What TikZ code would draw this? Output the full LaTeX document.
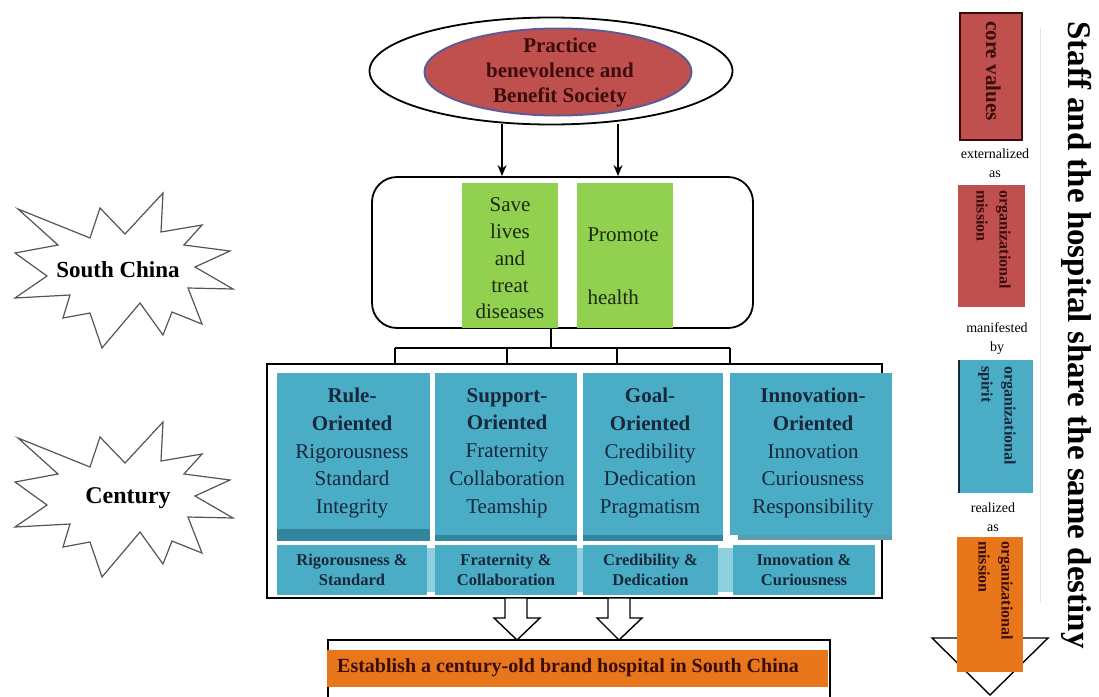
\documentclass[tikz,border=0pt]{standalone}
\usepackage{fontspec}
\setmainfont{Liberation Serif}
\usetikzlibrary{arrows.meta,shapes.geometric}
\definecolor{myred}{HTML}{C0504D}
\definecolor{redborder}{HTML}{5E5A96}
\definecolor{mygreen}{HTML}{92D050}
\definecolor{myblue}{HTML}{4BACC6}
\definecolor{darkblue}{HTML}{31859C}
\definecolor{lightblue}{HTML}{8FD0E0}
\definecolor{myorange}{HTML}{E8761A}
\definecolor{navytext}{HTML}{16283A}
\definecolor{maroontext}{HTML}{3A0C0C}
\definecolor{greentext}{HTML}{1C2A14}
\definecolor{burstline}{HTML}{555555}
\newcommand\setfs[2]{\fontsize{#1}{#2}\selectfont}
\begin{document}
\begin{tikzpicture}[x=1pt,y=-1pt,
  blk/.style={draw=black,line width=1.8pt},
  arr/.style={-{Stealth[length=11pt,width=9pt]},line width=1.6pt},
  hollow/.style={draw=black,line width=1.4pt,fill=white},
  bluebox/.style={fill=myblue,inner sep=0pt},
  lowbox/.style={fill=myblue,inner sep=0pt,minimum height=50pt},
  uptext/.style={font=\setfs{21}{27.75},text=navytext,align=center},
  lowtext/.style={font=\bfseries\setfs{16.5}{20},text=navytext,align=center},
  vtext/.style={rotate=-90,anchor=north west,inner sep=0pt,align=left,font=\bfseries\setfs{16}{23},text=maroontext},
  smalltext/.style={font=\setfs{14}{19},align=center,inner sep=0pt},
  burst/.pic={\draw[draw=burstline,line width=1.2pt,fill=white]
     (18,209) -- (90,238) -- (100,208) -- (125,234) -- (163,193) -- (161,232)
     -- (202,225) -- (184,245) -- (230,251) -- (195,267) -- (233,289) -- (188,288)
     -- (202,324) -- (172,312) -- (163,335) -- (140,303) -- (102,348) -- (90,313)
     -- (63,318) -- (70,295) -- (15,298) -- (47,276) -- (15,253) -- (58,245) -- cycle;}
]
\useasboundingbox (0,0) rectangle (1099,696);

% ---------- starbursts ----------
\pic at (0,0) {burst};
\pic at (0,229) {burst};
\node[font=\bfseries\setfs{23}{26}] (southchina) at (118,270) {South China};
\node[font=\bfseries\setfs{24}{26}] (century) at (128,498) {Century};

% ---------- top ellipse ----------
\node[ellipse,blk,minimum width=363pt,minimum height=107pt,inner sep=0pt] (outer) at (551,71) {};
\node[ellipse,fill=myred,draw=redborder,line width=2pt,minimum width=267pt,minimum height=87pt,inner sep=0pt] (inner) at (558,72) {};
\node[font=\bfseries\setfs{21}{25},text=maroontext,align=center] (ptext) at (560,72) {Practice\\benevolence and\\Benefit Society};

% ---------- mission box ----------
\node[blk,rounded corners=25pt,minimum width=381pt,minimum height=151pt,inner sep=0pt] (mission) at (562.5,252.5) {};
\coordinate (a1) at (502,124);
\coordinate (a2) at (618,124);
\draw[arr] (a1) -- (a1 |- mission.north);
\draw[arr] (a2) -- (a2 |- mission.north);
\node[fill=mygreen,minimum width=96pt,minimum height=145pt,inner sep=0pt] (g1) at (510,255.5) {};
\node[fill=mygreen,minimum width=96pt,minimum height=145pt,inner sep=0pt] (g2) at (625,255.5) {};
\node[font=\setfs{21}{26.75},text=greentext,align=center] (g1t) at (510,258.5) {Save\\lives\\and\\treat\\diseases};
\node[font=\setfs{21}{27},text=greentext,align=left,anchor=west] (g2t) at (584,266.5) {Promote\\[36pt]health};

% ---------- big frame ----------
\node[blk,minimum width=615pt,minimum height=234pt,inner sep=0pt] (big) at (574.5,481) {};
\coordinate (tx) at (551,0);
\coordinate (bar) at (551,348);
\coordinate (b1) at (395,348);
\coordinate (b2) at (507,348);
\coordinate (b3) at (617,348);
\coordinate (b4) at (730,348);
\draw[blk] (mission.south -| tx) -- (bar);
\draw[blk] (b1) -- (b4);
\foreach \b in {b1,b2,b3,b4} \draw[blk] (\b) -- (\b |- big.north);

% upper blue boxes
\node[bluebox,minimum width=153pt,minimum height=168pt] (u1) at (353.5,457) {};
\node[bluebox,minimum width=142pt,minimum height=168pt] (u2) at (506,457) {};
\node[bluebox,minimum width=140pt,minimum height=168pt] (u3) at (653,457) {};
\node[bluebox,minimum width=162pt,minimum height=162pt] (u4) at (811,454) {};
\fill[darkblue] (u1.south west) ++(0,-12) rectangle (u1.south east);
\fill[darkblue] (u2.south west) ++(0,-6) rectangle (u2.south east);
\fill[darkblue] (u3.south west) ++(0,-6) rectangle (u3.south east);
\fill[darkblue!80] (u4.south west) ++(8,0) rectangle ([yshift=-5pt]u4.south east);
\node[uptext] (u1t) at (352,453) {\textbf{Rule-}\\\textbf{Oriented}\\Rigorousness\\Standard\\Integrity};
\node[uptext] (u2t) at (507,453) {\textbf{Support-}\\\textbf{Oriented}\\Fraternity\\Collaboration\\Teamship};
\node[uptext] (u3t) at (650,453) {\textbf{Goal-}\\\textbf{Oriented}\\Credibility\\Dedication\\Pragmatism};
\node[uptext] (u4t) at (813,453) {\textbf{Innovation-}\\\textbf{Oriented}\\Innovation\\Curiousness\\Responsibility};

% lower blue boxes
\fill[lightblue] (277,548) rectangle (875,592);
\node[lowbox,minimum width=150pt] (l1) at (352,570) {};
\node[lowbox,minimum width=142pt] (l2) at (506,570) {};
\node[lowbox,minimum width=135pt] (l3) at (650.5,570) {};
\node[lowbox,minimum width=142pt] (l4) at (804,570) {};
\node[lowtext] (l1t) at (l1) {Rigorousness \&\\Standard};
\node[lowtext] (l2t) at (l2) {Fraternity \&\\Collaboration};
\node[lowtext] (l3t) at (l3) {Credibility \&\\Dedication};
\node[lowtext] (l4t) at (l4) {Innovation \&\\Curiousness};

% ---------- bottom goal ----------
\coordinate (gl) at (328,640);
\coordinate (gr) at (830,640);
\draw[blk] (gl |- 0,697) -- (gl) -- (gr) -- (gr |- 0,697);
\node[fill=myorange,minimum width=501pt,minimum height=37pt,inner sep=0pt] (goalbar) at (577.5,668.5) {};
\node[anchor=west,inner sep=0pt,font=\bfseries\setfs{20}{22},text=maroontext] (goaltext) at (337,668) {Establish a century-old brand hospital in South China};

% hollow block arrows
\draw[hollow] (505,598) -- (527,598) -- (527,618) -- (540,618) -- (517,640) -- (494,618) -- (505,618) -- cycle;
\draw[hollow] (608,598) -- (630,598) -- (630,618) -- (642,618) -- (619,640) -- (597,618) -- (608,618) -- cycle;

% ---------- right column ----------
\draw[gray!22,line width=1pt] (1040,28) -- (1040,603);
\draw[black,line width=1.4pt,fill=white] (932,638) -- (1048,638) -- (990,695) -- cycle;

\node[fill=myred,draw=maroontext,line width=1.6pt,minimum width=62pt,minimum height=127pt,inner sep=0pt] (cv) at (991,76.5) {};
\node[vtext,font=\bfseries\setfs{21}{23}] (cvt) at (1001,21) {core values};
\node[smalltext] (ext) at (995,163.5) {externalized\\as};

\node[fill=myred,minimum width=67pt,minimum height=122pt,inner sep=0pt] (om1) at (991.5,246) {};
\node[vtext] (om1t) at (1011,190) {organizational\\mission};
\node[smalltext] (man) at (997,339) {manifested\\by};

\node[fill=myblue,minimum width=74pt,minimum height=133pt,inner sep=0pt] (os) at (996,426.5) {};
\draw[navytext,line width=1.5pt] (os.north west) -- (os.south west);
\node[vtext,text=navytext] (ost) at (1016,366) {organizational\\spirit};
\node[smalltext] (real) at (993,517) {realized\\as};

\node[fill=myorange,minimum width=66pt,minimum height=135pt,inner sep=0pt] (om2) at (990,604.5) {};
\node[vtext] (om2t) at (1013,541) {organizational\\mission};

\node[rotate=-90,font=\bfseries\setfs{33}{36}] (destiny) at (1077,335) {Staff and the hospital share the same destiny};
\end{tikzpicture}
\end{document}
